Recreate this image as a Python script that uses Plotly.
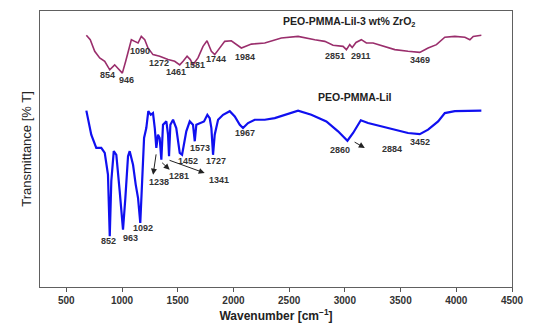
import plotly.graph_objects as go

# ---- data (wavenumber cm-1, transmittance arbitrary %) ----
wn_zro2 = [680, 715, 755, 800, 845, 890, 934, 964, 1003, 1033, 1063, 1084, 1114, 1144, 1173,
           1204, 1233, 1278, 1338, 1413, 1473, 1518, 1548, 1584, 1613, 1637, 1682, 1727, 1763,
           1802, 1832, 1922, 1981, 2071, 2161, 2281, 2430, 2580, 2730, 2820, 2894, 2984, 3014,
           3044, 3066, 3100, 3148, 3193, 3253, 3358, 3448, 3567, 3672, 3747, 3822, 3897, 3987,
           4077, 4122, 4152, 4225]
t_zro2 = [91.2, 89.6, 85.4, 83.0, 81.8, 78.7, 80.5, 79.3, 77.5, 81.8, 86.6, 89.6, 89.0, 88.4, 90.8,
          89.6, 86.6, 84.2, 83.6, 82.4, 81.8, 80.5, 81.8, 83.6, 82.4, 80.5, 83.0, 87.2, 89.2,
          85.4, 84.2, 89.0, 89.2, 86.6, 88.0, 88.4, 90.2, 90.8, 89.6, 89.0, 87.6, 87.2, 86.0,
          87.8, 86.8, 88.6, 89.6, 88.4, 88.4, 87.2, 86.0, 85.4, 85.0, 86.6, 87.8, 90.5, 90.8,
          90.5, 89.6, 90.8, 91.2]

wn_lii = [680, 724, 769, 814, 845, 874, 890, 904, 926, 949, 979, 1009, 1030, 1054, 1069, 1099,
          1123, 1144, 1164, 1182, 1198, 1218, 1236, 1258, 1278, 1294, 1308, 1323, 1338, 1353,
          1368, 1398, 1413, 1422, 1434, 1458, 1487, 1518, 1539, 1577, 1608, 1637, 1653, 1667,
          1698, 1736, 1766, 1787, 1802, 1817, 1832, 1862, 1907, 1967, 2012, 2057, 2086, 2131,
          2191, 2281, 2371, 2461, 2580, 2699, 2834, 2939, 3023, 3074, 3143, 3208, 3328, 3448,
          3567, 3672, 3747, 3837, 3897, 3987, 4106, 4225]
t_lii = [63.9, 55.2, 50.4, 50.4, 48.6, 40.7, 18.4, 38.4, 49.2, 47.9, 34.8, 20.8, 32.2, 47.4, 49.2,
         44.3, 37.1, 32.2, 23.2, 38.3, 54.0, 57.6, 63.7, 62.4, 63.0, 57.6, 50.4, 55.2, 54.0, 46.1,
         58.8, 60.0, 55.2, 47.4, 58.8, 60.6, 57.6, 48.6, 47.9, 56.4, 60.0, 58.8, 52.8, 58.8,
         59.4, 60.0, 62.4, 61.2, 57.6, 47.9, 55.2, 60.6, 62.4, 63.7, 61.8, 58.8, 57.6, 59.4,
         60.6, 60.6, 61.2, 62.4, 63.9, 62.4, 60.0, 56.4, 53.0, 55.8, 60.4, 59.4, 58.2, 57.0,
         55.8, 55.4, 57.0, 60.0, 63.0, 63.7, 63.9, 63.9]

x_ticks = [500, 1000, 1500, 2000, 2500, 3000, 3500, 4000, 4500]

# peak labels: (text, wavenumber, transmittance)
labels_zro2 = [("854", 874, 76.9), ("946", 1039, 75.1), ("1090", 1159, 85.4),
               ("1272", 1332, 81.2), ("1461", 1487, 77.8), ("1581", 1653, 80.5),
               ("1744", 1841, 82.7), ("1984", 2102, 83.3), ("2851", 2909, 83.8),
               ("2911", 3143, 83.8), ("3469", 3672, 82.4)]
labels_lii = [("852", 881, 16.6), ("963", 1074, 17.9), ("1092", 1189, 21.4),
              ("1238", 1329, 38.0), ("1281", 1512, 40.3), ("1341", 1871, 38.7),
              ("1452", 1592, 45.8), ("1573", 1698, 50.4), ("1727", 1847, 45.8),
              ("1967", 2101, 55.8), ("2860", 2954, 49.7), ("2884", 3424, 50.0),
              ("3452", 3672, 52.4)]
# arrows: (head wn, head T, tail wn, tail T)
arrows = [(1279, 40.7, 1308, 48.6), (1428, 42.5, 1347, 45.5),
          (1742, 41.3, 1413, 46.1), (3179, 50.4, 3074, 52.8)]

FONT = "Liberation Sans, Arial, sans-serif"

fig = go.Figure()
fig.add_trace(go.Scatter(x=wn_zro2, y=t_zro2, mode="lines",
                         line=dict(color="#9a2e6c", width=1.6), showlegend=False))
fig.add_trace(go.Scatter(x=wn_lii, y=t_lii, mode="lines",
                         line=dict(color="#1010f0", width=2.2), showlegend=False))

ann = []
for txt, x, y in labels_zro2 + labels_lii:
    ann.append(dict(x=x, y=y, text="<b>%s</b>" % txt, showarrow=False,
                    font=dict(family=FONT, size=9, color="#333333")))
for hx, hy, tx, ty in arrows:
    ann.append(dict(x=hx, y=hy, ax=tx, ay=ty, axref="x", ayref="y", text="",
                    showarrow=True, arrowhead=2, arrowsize=1.2, arrowwidth=1,
                    arrowcolor="#222222"))
ann.append(dict(x=3041, y=96.0, text="<b>PEO-PMMA-LiI-3 wt% ZrO<sub>2</sub></b>",
                showarrow=False, font=dict(family=FONT, size=10.5, color="#222222")))
ann.append(dict(x=3091, y=68.8, text="<b>PEO-PMMA-LiI</b>",
                showarrow=False, font=dict(family=FONT, size=10.5, color="#222222")))

fig.update_layout(
    width=550, height=326,
    margin=dict(l=32, r=46, t=3, b=47),
    paper_bgcolor="white", plot_bgcolor="white",
    annotations=ann,
    xaxis=dict(range=[264, 4500], tickvals=x_ticks,
               ticktext=["<b>%d</b>" % v for v in x_ticks],
               ticks="outside", ticklen=4, tickcolor="#555555",
               showline=True, linecolor="#606060", linewidth=1, mirror=True,
               showgrid=False, zeroline=False,
               tickfont=dict(family=FONT, size=10, color="#333333"),
               title=dict(text="<b>Wavenumber [cm<sup>−1</sup>]</b>", standoff=6,
                          font=dict(family=FONT, size=12, color="#222222"))),
    yaxis=dict(range=[0, 100], showticklabels=False, ticks="",
               showline=True, linecolor="#606060", linewidth=1, mirror=True,
               showgrid=False, zeroline=False,
               title=dict(text="Transmittance [% T]", standoff=4,
                          font=dict(family=FONT, size=13, color="#222222"))),
)

fig.write_html("out.html")
